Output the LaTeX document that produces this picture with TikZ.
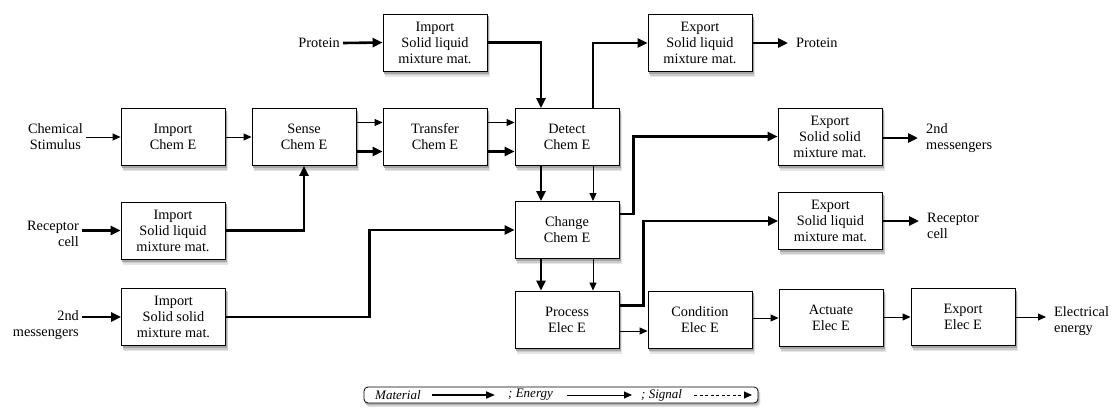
\documentclass[tikz,border=0pt]{standalone}
\usepackage{fontspec}
\setmainfont{Liberation Serif}
\usetikzlibrary{arrows.meta,backgrounds}

\newcommand\diafont{\fontsize{14.3}{16}\selectfont}
\newcommand\keyfont{\fontsize{13}{14}\selectfont\itshape}

\begin{document}
\begin{tikzpicture}[x=1pt,y=-1pt,
  blk/.style={draw, line width=0.9pt, fill=white, minimum width=104pt,
    minimum height=57pt, align=center, inner sep=0pt, font=\diafont},
  lblL/.style={inner xsep=3pt, inner ysep=0pt, font=\diafont},
  lblR/.style={inner xsep=8pt, inner ysep=0pt, font=\diafont, align=left},
  mat/.style={line width=2.6pt, -{Triangle[length=10pt,width=9pt]}},
  nrg/.style={line width=0.9pt, -{Triangle[length=8pt,width=7pt]}},
  sig/.style={line width=0.9pt, dash pattern=on 3pt off 2.5pt,
    -{Triangle[length=8pt,width=7pt]}},
]
\useasboundingbox (0,0) rectangle (1116,418);

% function blocks
\node[blk] (impProt)   at (435,42.5)  {Import\\Solid liquid\\mixture mat.};
\node[blk] (expProt)   at (700,43)    {Export\\Solid liquid\\mixture mat.};
\node[blk] (impChem)   at (173,137)   {Import\\Chem E};
\node[blk] (sense)     at (304,137)   {Sense\\Chem E};
\node[blk] (transfer)  at (435,137)   {Transfer\\Chem E};
\node[blk] (detect)    at (567,137)   {Detect\\Chem E};
\node[blk] (expMsg)    at (830,136.5) {Export\\Solid solid\\mixture mat.};
\node[blk] (impRec)    at (173,230.5) {Import\\Solid liquid\\mixture mat.};
\node[blk] (change)    at (567,230)   {Change\\Chem E};
\node[blk] (expRec)    at (830.5,221) {Export\\Solid liquid\\mixture mat.};
\node[blk] (impMsg)    at (173.5,317) {Import\\Solid solid\\mixture mat.};
\node[blk] (process)   at (567,319.5) {Process\\Elec E};
\node[blk] (condition) at (700,319.5) {Condition\\Elec E};
\node[blk] (actuate)   at (831,318)   {Actuate\\Elec E};
\node[blk] (expElec)   at (963,317)   {Export\\Elec E};

% soft shadows under the blocks, lightest and widest first
\begin{scope}[on background layer]
\foreach \b in {impProt,expProt,impChem,sense,transfer,detect,expMsg,impRec,
                change,expRec,impMsg,process,condition,actuate,expElec} {
  \fill[black!10] ([xshift=2.5pt,yshift=-5.5pt]\b.south west) rectangle ([xshift=2.5pt,yshift=-5.5pt]\b.north east);
  \fill[black!20] ([xshift=2pt,yshift=-4pt]\b.south west) rectangle ([xshift=2pt,yshift=-4pt]\b.north east);
  \fill[black!35] ([xshift=1.5pt,yshift=-2.5pt]\b.south west) rectangle ([xshift=1.5pt,yshift=-2.5pt]\b.north east);
}
\end{scope}

% flow labels, inputs on the left
\node[lblL, anchor=east, align=center] (chemIn) at (86,137)   {Chemical\\Stimulus};
\node[lblL, anchor=east, align=right]  (recIn)  at (82,234)   {Receptor\\cell};
\node[lblL, anchor=east, align=right]  (msgIn)  at (82,325.5) {2nd\\messengers};
\node[lblL, anchor=east]               (protIn) at (343,43)   {Protein};
% flow labels, outputs on the right
\node[lblR, anchor=west] (protOut) at (788,43)   {Protein};
\node[lblR, anchor=west] (msgOut)  at (918,138)  {2nd\\messengers};
\node[lblR, anchor=west] (recOut)  at (919,226)  {Receptor\\cell};
\node[lblR, anchor=west] (elecOut) at (1046,321) {Electrical\\energy};

% inputs
\draw[nrg] (chemIn.east |- impChem.west) -- (impChem.west);
\draw[mat] (recIn.east |- impRec.west) -- (impRec.west);
\draw[mat] (msgIn.east |- impMsg.west) -- (impMsg.west);
\draw[mat] (protIn.east) -- (impProt.west);

% chemical chain
\draw[nrg] (impChem.east) -- (sense.west);
\draw[mat] (impRec.east) -| (sense.south);
\draw[nrg] ([yshift=14.5pt]sense.east) -- ([yshift=14.5pt]transfer.west);
\draw[mat] ([yshift=-14.5pt]sense.east) -- ([yshift=-14.5pt]transfer.west);
\draw[nrg] ([yshift=14.5pt]transfer.east) -- ([yshift=14.5pt]detect.west);
\draw[mat] ([yshift=-14.5pt]transfer.east) -- ([yshift=-14.5pt]detect.west);
\draw[mat] (impProt.east) -| ([xshift=-26pt]detect.north);
\draw[mat] ([xshift=26pt]detect.north) |- (expProt.west);
\draw[mat] ([xshift=-26pt]detect.south) -- ([xshift=-26pt]change.north);
\draw[nrg] ([xshift=26pt]detect.south) -- ([xshift=26pt]change.north);
\draw[mat] (impMsg.east) -| ([xshift=-145pt]change.west) -- (change.west);
\draw[mat] ([yshift=16pt]change.east) -- ++(14,0) |- (expMsg.west);
\draw[mat] ([xshift=-26pt]change.south) -- ([xshift=-26pt]process.north);
\draw[nrg] ([xshift=26pt]change.south) -- ([xshift=26pt]process.north);

% electrical chain
\draw[mat] ([yshift=14pt]process.east) -- ++(24,0) |- (expRec.west);
\draw[nrg] ([yshift=-11.5pt]process.east) -- ([yshift=-11.5pt]condition.west);
\draw[nrg] (condition.east |- actuate.west) -- (actuate.west);
\draw[nrg] (actuate.east |- expElec.west) -- (expElec.west);

% outputs
\draw[mat] (expProt.east) -- (protOut.west);
\draw[mat] (expMsg.east |- msgOut.west) -- (msgOut.west);
\draw[mat] (expRec.east) -- (expRec.east -| recOut.west);
\draw[nrg] (expElec.east) -- (expElec.east -| elecOut.west);

% key
\node[draw, line width=0.8pt, rounded corners=4pt, fill=white,
  minimum width=394pt, minimum height=16pt, inner sep=0pt]
  (key) at (561,395) {};
\begin{scope}[on background layer]
  \fill[black!12, rounded corners=4pt] ([xshift=2pt,yshift=-3.5pt]key.south west) rectangle ([xshift=2pt,yshift=-3.5pt]key.north east);
  \fill[black!30, rounded corners=4pt] ([xshift=1pt,yshift=-2pt]key.south west) rectangle ([xshift=1pt,yshift=-2pt]key.north east);
\end{scope}
\node[anchor=west, inner sep=0pt, font=\keyfont] (kMat) at (375,395) {Material};
\node[anchor=west, inner sep=0pt, font=\keyfont] (kNrg) at (508,395) {; Energy};
\node[anchor=west, inner sep=0pt, font=\keyfont] (kSig) at (641,395) {; Signal};
\coordinate (kMatA) at (432,395); \coordinate (kMatB) at (495,395);
\coordinate (kNrgA) at (567,395); \coordinate (kNrgB) at (632,395);
\coordinate (kSigA) at (694,395); \coordinate (kSigB) at (752,395);
\draw[line width=1.8pt, -{Triangle[length=9pt,width=7pt]}] (kMatA) -- (kMatB);
\draw[nrg] (kNrgA) -- (kNrgB);
\draw[sig] (kSigA) -- (kSigB);
\end{tikzpicture}
\end{document}
